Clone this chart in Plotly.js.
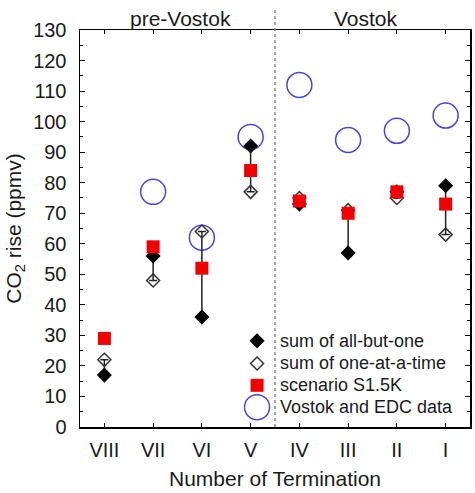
<!DOCTYPE html>
<html>
<head>
<meta charset="utf-8">
<script src="https://cdn.plot.ly/plotly-3.0.1.min.js"></script>
<style>
  html, body { margin: 0; padding: 0; background: #fff; }
  #chart { width: 475px; height: 493px; }
</style>
</head>
<body>
<div id="chart"></div>
<script>
// Terminations, oldest to youngest
const terminations = ['VIII', 'VII', 'VI', 'V', 'IV', 'III', 'II', 'I'];

// CO2 rise (ppmv) per termination
const sumAllButOne   = [17, 56, 36, 92, 73, 57, 77, 79];
const sumOneAtATime  = [22, 48, 64, 77, 75, 71, 75, 63];
const scenarioS15K   = [29, 59, 52, 84, 74, 70, 77, 73];
const vostokEDC      = [null, 77, 62, 95, 112, 94, 97, 102];

// Legend labels
const legendLabels = ['sum of all-but-one', 'sum of one-at-a-time', 'scenario S1.5K', 'Vostok and EDC data'];

const FONT = '"Liberation Sans", Arial, sans-serif';
const INK = '#1a1a1a';

const styles = {
  filled: { symbol: 'diamond', size: 10, color: '#000', line: { color: '#000', width: 1.5 } },
  open:   { symbol: 'diamond-open', size: 10, color: '#333', line: { color: '#333', width: 1.5 } },
  square: { symbol: 'square', size: 13, color: '#f00000', line: { width: 0 } },
  circle: { symbol: 'circle-open', size: 25, color: '#4646dc', line: { color: '#4646dc', width: 1.5 } }
};

// connector from the all-but-one value to the one-at-a-time value, capped at the latter
const upTo   = sumAllButOne.map((v, i) => Math.max(0, sumOneAtATime[i] - v));
const downTo = sumAllButOne.map((v, i) => Math.max(0, v - sumOneAtATime[i]));

const traces = [
  { x: terminations, y: vostokEDC, type: 'scatter', mode: 'markers', marker: styles.circle, showlegend: false, hoverinfo: 'y' },
  { x: terminations, y: sumAllButOne, type: 'scatter', mode: 'markers',
    marker: { size: 2, color: 'rgba(0,0,0,0)' }, showlegend: false, hoverinfo: 'skip',
    error_y: { type: 'data', symmetric: false, array: upTo, arrayminus: downTo,
               color: '#222', thickness: 1.5, width: 4 } },
  { x: terminations, y: sumOneAtATime, type: 'scatter', mode: 'markers', marker: styles.open, showlegend: false },
  { x: terminations, y: sumAllButOne, type: 'scatter', mode: 'markers', marker: styles.filled, showlegend: false },
  { x: terminations, y: scenarioS15K, type: 'scatter', mode: 'markers', marker: styles.square, showlegend: false }
];

// legend keys drawn on an overlay frame (0..1 over the plot area)
const keyX = 0.454, keyRows = [0.217, 0.160, 0.105, 0.050];
const keyStyles = [styles.filled, styles.open, styles.square, styles.circle];
keyStyles.forEach((m, i) => {
  traces.push({ x: [keyX], y: [keyRows[i]], xaxis: 'x2', yaxis: 'y2', type: 'scatter',
                mode: 'markers', marker: m, showlegend: false, hoverinfo: 'skip' });
});

const annotations = legendLabels.map((t, i) => ({
  text: t, xref: 'paper', yref: 'paper', x: 0.507, y: keyRows[i],
  xanchor: 'left', yanchor: 'middle', showarrow: false,
  font: { family: FONT, size: 18, color: INK }
}));
annotations.push(
  { text: 'pre-Vostok', xref: 'paper', yref: 'paper', x: 0.258, y: 1.03, xanchor: 'center', yanchor: 'middle',
    showarrow: false, font: { family: FONT, size: 21, color: INK } },
  { text: 'Vostok', xref: 'paper', yref: 'paper', x: 0.733, y: 1.03, xanchor: 'center', yanchor: 'middle',
    showarrow: false, font: { family: FONT, size: 21, color: INK } }
);

const layout = {
  width: 475, height: 493,
  margin: { l: 80, r: 5, t: 30, b: 66 },
  paper_bgcolor: '#fff', plot_bgcolor: '#fff',
  font: { family: FONT, color: INK },
  showlegend: false,
  xaxis: {
    type: 'category', range: [-0.5, 7.5], fixedrange: true,
    showline: true, linecolor: '#000', linewidth: 1.5, mirror: 'allticks',
    ticks: 'inside', ticklen: 4, tickcolor: '#000', tickwidth: 1,
    tickfont: { family: FONT, size: 20, color: INK }, ticklabelstandoff: 4,
    showgrid: false, zeroline: false,
    title: { text: 'Number of Termination', font: { family: FONT, size: 21, color: INK }, standoff: 12 }
  },
  yaxis: {
    range: [0, 130], dtick: 10, fixedrange: true,
    showline: true, linecolor: '#000', linewidth: 1.5, mirror: 'allticks',
    ticks: 'inside', ticklen: 5, tickcolor: '#000', tickwidth: 1,
    minor: { dtick: 5, ticks: 'inside', ticklen: 3, tickcolor: '#000' },
    tickfont: { family: FONT, size: 20, color: INK }, ticklabelstandoff: 8,
    showgrid: false, zeroline: false,
    title: { text: 'CO<sub>2</sub> rise (ppmv)', font: { family: FONT, size: 21, color: INK }, standoff: 6 }
  },
  xaxis2: { overlaying: 'x', range: [0, 1], visible: false, fixedrange: true },
  yaxis2: { overlaying: 'y', range: [0, 1], visible: false, fixedrange: true },
  shapes: [
    { type: 'line', xref: 'x', yref: 'paper', x0: 3.5, x1: 3.5, y0: 0, y1: 1.058,
      line: { color: '#888', width: 1.5, dash: 'dot' } }
  ],
  annotations: annotations
};

Plotly.newPlot('chart', traces, layout, { displayModeBar: false, staticPlot: true });
</script>
</body>
</html>
